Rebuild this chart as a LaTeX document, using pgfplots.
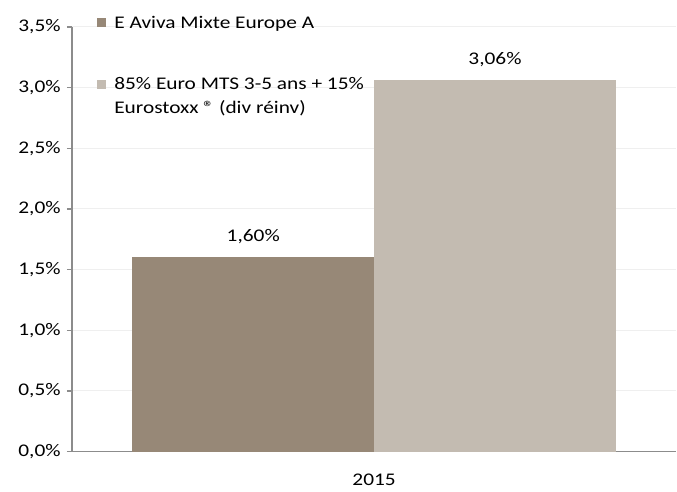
\documentclass[border=0pt]{standalone}
\usepackage{fontspec}
\setmainfont[FakeStretch=1.2]{Carlito}
\usepackage{pgfplots}
\pgfplotsset{compat=1.18}
\definecolor{barA}{HTML}{978877}
\definecolor{barB}{HTML}{C3BBB1}
\definecolor{axisgray}{HTML}{8C8C8C}
\definecolor{gridgray}{HTML}{EFEFEF}
\pgfplotsset{/pgf/number format/assume math mode=true}
\begin{document}
\fontsize{8.9}{12}\selectfont
\begin{tikzpicture}
\path (-36pt,-16.5pt) rectangle (302.5pt,226pt);
\begin{axis}[
  at={(0pt,0pt)}, anchor=south west,
  scale only axis, width=302.5pt, height=212.5pt,
  xmin=-302.5, xmax=302.5, ymin=0, ymax=3.5,
  axis x line*=bottom, axis y line*=left,
  axis line style={axisgray, line width=0.7pt},
  ytick={0,0.5,1,1.5,2,2.5,3,3.5},
  yticklabels={{0,0\%},{0,5\%},{1,0\%},{1,5\%},{2,0\%},{2,5\%},{3,0\%},{3,5\%}},
  tick align=outside, major tick length=2.5pt,
  ytick style={axisgray, line width=0.7pt},
  xtick={0}, xticklabels={2015},
  x tick style={draw=none},
  xticklabel style={yshift=-5.5pt},
  ymajorgrids, grid style={gridgray, line width=0.5pt},
  ybar, bar shift=0pt, bar width=242,
  nodes near coords={\pgfmathprintnumber[fixed,fixed zerofill,precision=2,use comma]{\pgfplotspointmeta}\%},
  every node near coord/.append style={black, yshift=3.5pt},
  legend style={draw=none, fill=none, inner sep=0pt, outer sep=0pt,
    at={(rel axis cs:0.042,1.026)}, anchor=north west,
    row sep=21pt,
    nodes={inner sep=0pt, anchor=base west},
    /tikz/every odd column/.append style={column sep=4pt}},
  legend cell align=left,
  legend image code/.code={\fill[#1, draw=none] (0pt,0.5pt) rectangle (4.5pt,5pt);},
]
\addplot[fill=barA, draw=none] coordinates {(-121,1.60)};
\addlegendentry{E Aviva Mixte Europe A}
\addplot[fill=barB, draw=none] coordinates {(121,3.06)};
\addlegendentry{\begin{tabular}[t]{@{}l@{}}85\% Euro MTS 3-5 ans + 15\%\\Eurostoxx ® (div réinv)\end{tabular}}
\end{axis}
\end{tikzpicture}
\end{document}
